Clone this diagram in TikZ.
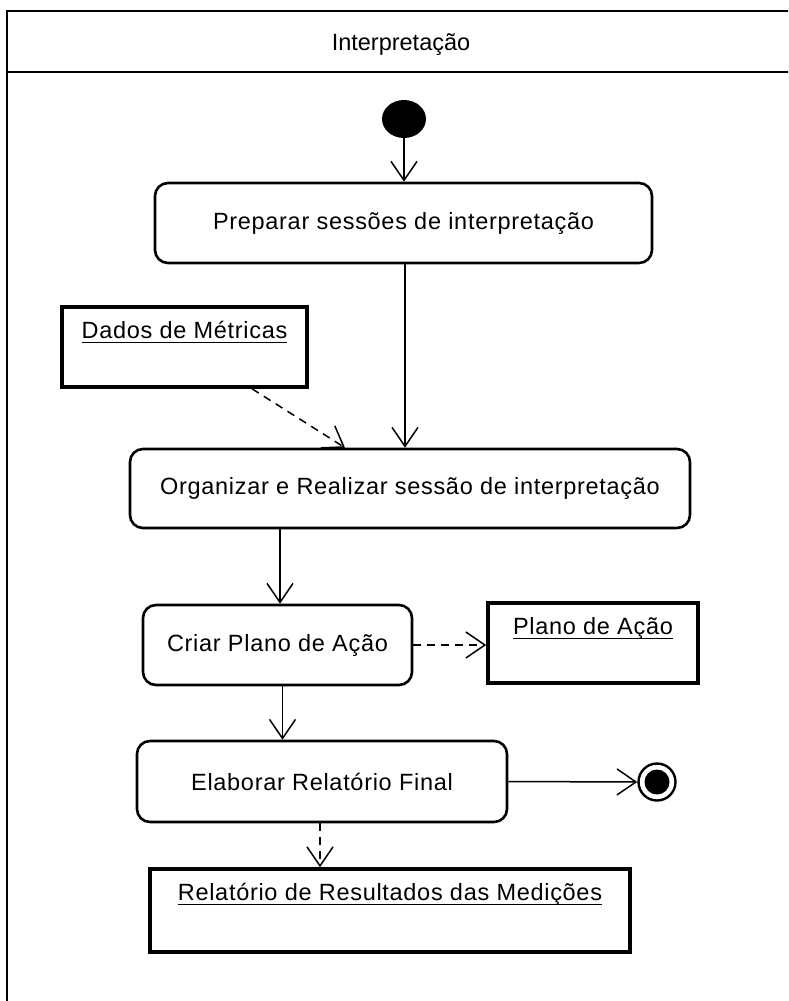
\documentclass[tikz,border=0pt]{standalone}
\usepackage{fontspec}
\setmainfont{Liberation Sans}
\newfontfamily\spacedfont[LetterSpace=3]{Liberation Sans}
\usetikzlibrary{arrows.meta,shapes.geometric,calc}

% underline at a fixed distance below the baseline, so cedillas cross it
\newcommand\undertext[1]{\setbox0\hbox{#1}\rlap{\rule[-5pt]{\wd0}{1.3pt}}\box0}

\tikzset{
  lbl/.style={font=\spacedfont\fontsize{23.5}{26}\selectfont, inner sep=0pt},
  headlbl/.style={font=\fontsize{23.5}{26}\selectfont, inner sep=0pt},
  action/.style={draw, line width=2.6pt, rounded corners=13pt, inner sep=0pt,
    font=\spacedfont\fontsize{23.5}{26}\selectfont},
  objbox/.style={draw, line width=3.6pt, inner sep=0pt},
  flow/.style={line width=1.5pt, -{Straight Barb[length=19pt,width=26pt,line width=1.5pt]}},
  dataflow/.style={flow, dash pattern=on 8pt off 6pt},
}

\begin{document}
\begin{tikzpicture}[x=1pt,y=-1pt]
  \useasboundingbox (0,0) rectangle (788,1001);
  \fill[white] (0,0) rectangle (788,1001);
  \clip (0,0) rectangle (788,1001);

  % swimlane frame with its header
  \draw[line width=2.8pt] (7,1020) -- (7,11) -- (820,11);
  \draw[line width=2.8pt] (7,72) -- (820,72);
  \node[headlbl] (title) at (401,45) {Interpretação};

  % initial and final states
  \node[ellipse, fill=black, minimum width=44pt, minimum height=38pt, inner sep=0pt] (start) at (404,119) {};
  \node[circle, draw, line width=2.4pt, minimum size=37pt, inner sep=0pt] (final) at (657,782) {};
  \fill (final.center) circle (12.5pt);

  % actions
  \node[action, minimum width=497pt, minimum height=80pt] (prep) at (403.5,223) {Preparar sessões de interpretação};
  \node[action, minimum width=560pt, minimum height=79pt] (org) at (410,488.5) {Organizar e Realizar sessão de interpretação};
  \node[action, minimum width=269pt, minimum height=80pt] (criar) at (277.5,645) {Criar Plano de Ação};
  \node[action, minimum width=370pt, minimum height=81pt] (elab) at (322,781.5) {Elaborar Relatório Final};

  % object nodes
  \node[objbox, minimum width=245pt, minimum height=80pt] (dados) at (184.5,347) {};
  \node[lbl, anchor=base] (dadost) at ([yshift=-33pt]dados.north) {\undertext{Dados de Métricas}};
  \node[objbox, minimum width=210pt, minimum height=80pt] (plano) at (593,643) {};
  \node[lbl, anchor=base] (planot) at ([yshift=-33pt]plano.north) {\undertext{Plano de Ação}};
  \node[objbox, minimum width=480pt, minimum height=83pt] (rel) at (390,910.5) {};
  \node[lbl, anchor=base] (relt) at ([yshift=-33pt]rel.north) {\undertext{Relatório de Resultados das Medições}};

  % control flow
  \draw[flow] (start.south) -- (start.south |- prep.north);
  \draw[flow] ([xshift=1.5pt]prep.south) -- ([xshift=1.5pt]prep.south |- org.north);
  \draw[flow] ([xshift=2.5pt]criar.north |- org.south) -- ([xshift=2.5pt]criar.north);
  \draw[flow] ([xshift=5pt]criar.south) -- ([xshift=5pt]criar.south |- elab.north);
  \draw[flow] (elab.east) -- (final.west);

  % object flow
  \draw[dataflow] ([xshift=67.5pt]dados.south) -- ([xshift=-65pt]org.north);
  \draw[dataflow] (criar.east) -- (plano.west |- criar.east);
  \draw[dataflow] ([xshift=-2pt]elab.south) -- ([xshift=-2pt]elab.south |- rel.north);
\end{tikzpicture}
\end{document}
